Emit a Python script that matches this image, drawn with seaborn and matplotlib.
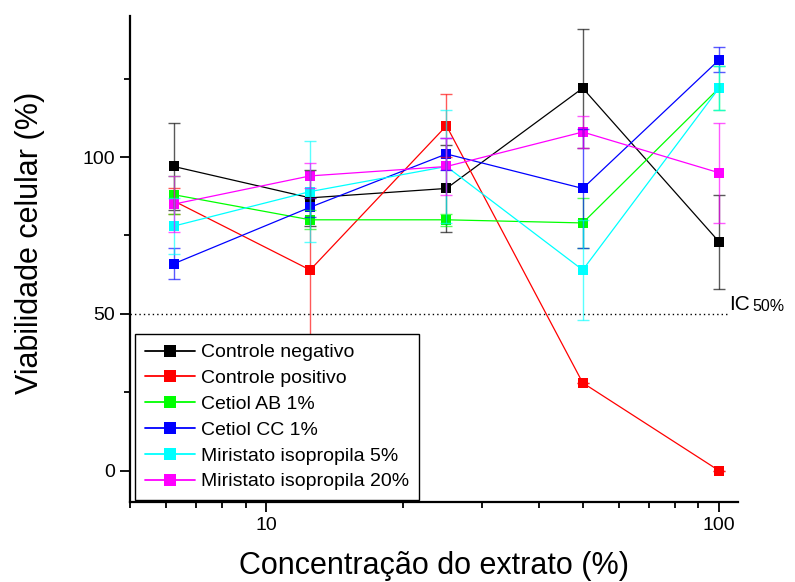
import pandas as pd
import matplotlib.pyplot as plt
import seaborn as sns
from matplotlib.lines import Line2D
from matplotlib.ticker import FixedLocator, FixedFormatter, MultipleLocator, NullFormatter

# -------------------------------
# Data
# -------------------------------
concentracao = [6.25, 12.5, 25, 50, 100]

amostras = [
    "Controle negativo",
    "Controle positivo",
    "Cetiol AB 1%",
    "Cetiol CC 1%",
    "Miristato isopropila 5%",
    "Miristato isopropila 20%",
]
cores = ["#000000", "#ff0000", "#00ff00", "#0000ff", "#00ffff", "#ff00ff"]

neg = [97, 87, 90, 122, 73]
neg_err = [14, 9, 14, 19, 15]
pos = [86, 64, 110, 28, 0]
pos_err = [4, 23, 10, 0, 0]
cetiol_ab = [88, 80, 80, 79, 122]
cetiol_ab_err = [6, 3, 2, 8, 7]
cetiol_cc = [66, 84, 101, 90, 131]
cetiol_cc_err = [5, 3, 5, 19, 4]
miristato5 = [78, 89, 97, 64, 122]
miristato5_err = [9, 16, 18, 16, 7]
miristato20 = [85, 94, 97, 108, 95]
miristato20_err = [9, 4, 9, 5, 16]

valores = [neg, pos, cetiol_ab, cetiol_cc, miristato5, miristato20]
erros = [neg_err, pos_err, cetiol_ab_err, cetiol_cc_err, miristato5_err, miristato20_err]

ic50 = 50
x_ticks = [10, 100]
x_tick_labels = ["10", "100"]
x_minor = [5, 6, 7, 8, 9, 20, 30, 40, 50, 60, 70, 80, 90]

rows = []
for nome, vals, errs in zip(amostras, valores, erros):
    for c, v, e in zip(concentracao, vals, errs):
        rows.append({"conc": c, "viab": v, "err": e, "amostra": nome})
df = pd.DataFrame(rows)

# -------------------------------
# Plot
# -------------------------------
sns.set_style("ticks")
plt.rcParams["font.family"] = ["Liberation Sans", "DejaVu Sans"]
plt.rcParams.update({
    "text.color": "black",
    "axes.labelcolor": "black",
    "axes.edgecolor": "black",
    "xtick.color": "black",
    "ytick.color": "black",
})

fig, ax = plt.subplots(figsize=(7.95, 5.82), dpi=100)
fig.subplots_adjust(left=0.1635, right=0.928, top=0.9725, bottom=0.1375)

palette = dict(zip(amostras, cores))

sns.lineplot(
    data=df, x="conc", y="viab", hue="amostra", hue_order=amostras,
    palette=palette, marker="s", markersize=7.5, markeredgewidth=0,
    linewidth=0.9, estimator=None, sort=False, legend=False, ax=ax,
)

for nome in amostras:
    sub = df[df["amostra"] == nome]
    ax.errorbar(
        sub["conc"], sub["viab"], yerr=sub["err"], fmt="none",
        ecolor=palette[nome], elinewidth=1, capsize=4, capthick=1,
        alpha=0.65, zorder=3,
    )

# IC 50% reference line
ax.plot([5, 104], [ic50, ic50], color="black", linewidth=1,
        linestyle=(0, (1, 2.2)), zorder=1)
ic_txt = ax.text(105.2, ic50, "IC", fontsize=15, va="bottom", ha="left")
ax.annotate("50%", xy=(1, 0), xycoords=ic_txt, xytext=(2, 0),
            textcoords="offset points", fontsize=11.5, va="bottom", ha="left")

ax.set_xscale("log")
ax.set_xlim(5, 110)
ax.set_ylim(-10, 145)

ax.xaxis.set_major_locator(FixedLocator(x_ticks))
ax.xaxis.set_major_formatter(FixedFormatter(x_tick_labels))
ax.xaxis.set_minor_locator(FixedLocator(x_minor))
ax.xaxis.set_minor_formatter(NullFormatter())
ax.yaxis.set_major_locator(MultipleLocator(50))
ax.yaxis.set_minor_locator(MultipleLocator(25))

sns.despine(ax=ax)
for side in ["left", "bottom"]:
    ax.spines[side].set_linewidth(1.6)
ax.tick_params(which="major", length=7, width=1.3, labelsize=14, pad=4)
ax.tick_params(which="minor", length=4, width=1.3)

ax.set_xlabel("Concentração do extrato (%)", fontsize=22)
ax.set_ylabel("Viabilidade celular (%)", fontsize=22)
ax.xaxis.set_label_coords(0.5, -0.1)
ax.yaxis.set_label_coords(-0.14, 0.533)

handles = [
    Line2D([0], [0], color=c, linewidth=1.3, marker="s",
           markersize=8, markeredgewidth=0)
    for c in cores
]
leg = ax.legend(
    handles, amostras, loc="lower left", bbox_to_anchor=(0.008, 0.004),
    borderaxespad=0, fontsize=14, frameon=True, fancybox=False,
    edgecolor="black", framealpha=1, labelspacing=0.42, handlelength=2.6,
    handletextpad=0.3, borderpad=0.5,
)
leg.get_frame().set_linewidth(1)

plt.savefig("out.png", dpi=100)
